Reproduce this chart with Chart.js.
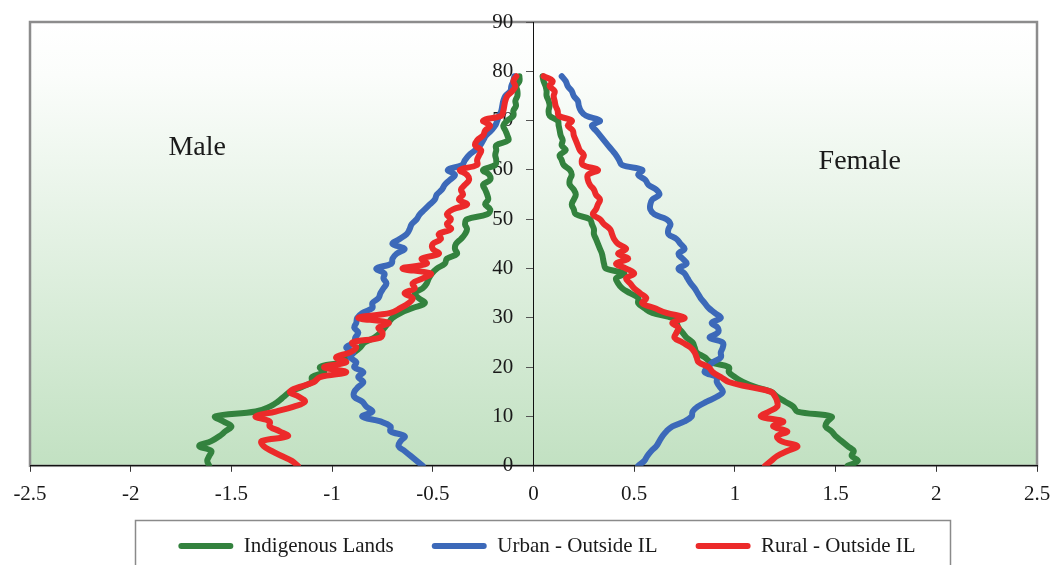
<!DOCTYPE html>
<html>
<head>
<meta charset="utf-8">
<script src="https://cdn.jsdelivr.net/npm/chart.js@4/dist/chart.umd.min.js"></script>
<style>
  html, body { margin: 0; padding: 0; background: #ffffff; }
  #wrap { width: 1050px; height: 565px; }
</style>
</head>
<body>
<div id="wrap"><canvas id="c" width="1050" height="565"></canvas></div>
<script>
const ages = [0,1,2,3,4,5,6,7,8,9,10,11,12,13,14,15,16,17,18,19,20,21,22,23,24,25,26,27,28,29,30,31,32,33,34,35,36,37,38,39,40,41,42,43,44,45,46,47,48,49,50,51,52,53,54,55,56,57,58,59,60,61,62,63,64,65,66,67,68,69,70,71,72,73,74,75,76,77,78,79];

const seriesNames = ['Indigenous Lands', 'Urban - Outside IL', 'Rural - Outside IL'];
const xTicks = [-2.5,-2,-1.5,-1,-0.5,0,0.5,1,1.5,2,2.5];
const yTicks = [0,10,20,30,40,50,60,70,80,90];
const sideLabels = ['Male', 'Female'];

// Male values (plotted as negative percentages)
const indigenousMale = [-1.61,-1.62,-1.61,-1.60,-1.66,-1.60,-1.56,-1.53,-1.50,-1.54,-1.58,-1.38,-1.31,-1.27,-1.24,-1.21,-1.15,-1.10,-1.10,-1.04,-1.06,-0.96,-0.93,-0.89,-0.86,-0.84,-0.79,-0.76,-0.74,-0.72,-0.70,-0.66,-0.60,-0.54,-0.57,-0.59,-0.55,-0.53,-0.52,-0.505,-0.48,-0.44,-0.43,-0.38,-0.39,-0.385,-0.36,-0.34,-0.33,-0.34,-0.33,-0.23,-0.215,-0.24,-0.225,-0.23,-0.24,-0.25,-0.215,-0.22,-0.25,-0.19,-0.185,-0.19,-0.185,-0.185,-0.125,-0.13,-0.14,-0.15,-0.13,-0.10,-0.10,-0.087,-0.09,-0.08,-0.08,-0.085,-0.07,-0.07];
const urbanMale = [-0.55,-0.58,-0.61,-0.64,-0.67,-0.66,-0.64,-0.71,-0.71,-0.76,-0.85,-0.80,-0.83,-0.85,-0.89,-0.89,-0.87,-0.845,-0.87,-0.845,-0.89,-0.88,-0.91,-0.895,-0.93,-0.89,-0.885,-0.87,-0.89,-0.88,-0.875,-0.85,-0.80,-0.80,-0.77,-0.76,-0.745,-0.73,-0.745,-0.74,-0.78,-0.705,-0.70,-0.68,-0.64,-0.70,-0.665,-0.63,-0.615,-0.605,-0.58,-0.565,-0.54,-0.515,-0.49,-0.48,-0.455,-0.44,-0.415,-0.39,-0.425,-0.355,-0.34,-0.32,-0.29,-0.265,-0.25,-0.235,-0.21,-0.19,-0.18,-0.17,-0.16,-0.155,-0.15,-0.14,-0.115,-0.11,-0.10,-0.095];
const ruralMale = [-1.17,-1.20,-1.25,-1.30,-1.34,-1.35,-1.22,-1.26,-1.31,-1.31,-1.38,-1.28,-1.19,-1.135,-1.165,-1.21,-1.16,-1.09,-1.06,-0.93,-1.04,-0.93,-0.98,-0.91,-0.88,-0.90,-0.76,-0.75,-0.77,-0.72,-0.87,-0.71,-0.66,-0.62,-0.60,-0.64,-0.59,-0.60,-0.55,-0.51,-0.65,-0.53,-0.555,-0.47,-0.50,-0.50,-0.46,-0.47,-0.41,-0.43,-0.41,-0.43,-0.40,-0.33,-0.37,-0.35,-0.36,-0.34,-0.32,-0.33,-0.365,-0.28,-0.28,-0.27,-0.26,-0.29,-0.28,-0.25,-0.24,-0.215,-0.25,-0.16,-0.15,-0.145,-0.14,-0.13,-0.105,-0.09,-0.10,-0.085];

// Female values
const indigenousFemale = [1.56,1.61,1.58,1.59,1.56,1.53,1.50,1.48,1.45,1.46,1.48,1.31,1.29,1.25,1.21,1.18,1.10,1.04,1.00,0.97,0.97,0.88,0.85,0.81,0.80,0.79,0.76,0.74,0.72,0.71,0.69,0.59,0.55,0.52,0.52,0.48,0.44,0.42,0.41,0.45,0.36,0.35,0.345,0.34,0.33,0.32,0.31,0.30,0.30,0.29,0.28,0.21,0.20,0.19,0.20,0.21,0.20,0.18,0.18,0.19,0.18,0.15,0.14,0.13,0.16,0.14,0.145,0.135,0.13,0.125,0.12,0.08,0.075,0.08,0.075,0.065,0.065,0.06,0.05,0.045];
const urbanFemale = [0.52,0.55,0.565,0.585,0.61,0.625,0.64,0.66,0.69,0.75,0.785,0.79,0.815,0.86,0.91,0.94,0.925,0.91,0.91,0.85,0.865,0.89,0.93,0.93,0.94,0.94,0.875,0.915,0.915,0.885,0.93,0.90,0.87,0.85,0.83,0.815,0.80,0.78,0.765,0.75,0.72,0.76,0.74,0.72,0.75,0.73,0.71,0.67,0.67,0.68,0.66,0.60,0.58,0.58,0.59,0.625,0.61,0.57,0.555,0.52,0.54,0.44,0.425,0.41,0.39,0.37,0.35,0.33,0.31,0.29,0.33,0.26,0.235,0.225,0.22,0.20,0.19,0.17,0.16,0.14];
const ruralFemale = [1.15,1.18,1.21,1.26,1.31,1.23,1.21,1.26,1.19,1.24,1.13,1.17,1.21,1.21,1.20,1.18,1.07,0.97,0.93,0.89,0.87,0.82,0.81,0.80,0.78,0.74,0.70,0.71,0.72,0.69,0.75,0.66,0.60,0.54,0.56,0.53,0.50,0.48,0.46,0.50,0.46,0.41,0.47,0.42,0.46,0.42,0.40,0.39,0.38,0.35,0.33,0.295,0.31,0.32,0.33,0.31,0.30,0.28,0.27,0.27,0.32,0.245,0.24,0.25,0.23,0.22,0.21,0.20,0.195,0.17,0.19,0.125,0.12,0.11,0.105,0.10,0.105,0.08,0.095,0.05];

const colors = ['#33823e', '#3c69b9', '#ec2a2a'];
const drawOrder = [2, 1, 0];

function pts(values) { return ages.map((a, i) => ({ x: values[i], y: a })); }

function ds(label, values, k) {
  return {
    label: label,
    data: pts(values),
    yAxisID: 'y',
    borderColor: colors[k],
    backgroundColor: colors[k],
    borderWidth: 6,
    borderCapStyle: 'round',
    borderJoinStyle: 'round',
    pointRadius: 0,
    pointHoverRadius: 0,
    tension: 0.4,
    fill: false,
    order: drawOrder[k]
  };
}

const maleSets = [indigenousMale, urbanMale, ruralMale];
const femaleSets = [indigenousFemale, urbanFemale, ruralFemale];
const datasets = [];
maleSets.forEach((v, k) => datasets.push(ds(seriesNames[k], v, k)));
femaleSets.forEach((v, k) => datasets.push(ds(seriesNames[k] + ' F', v, k)));

Chart.defaults.font.family = '"Liberation Serif", "DejaVu Serif", serif';
Chart.defaults.font.size = 21;
Chart.defaults.color = '#1a1a1a';

const LEGEND_PAD = 38;

const framePlugin = {
  id: 'frame',
  afterLayout(chart) {
    const lg = chart.legend;
    if (!lg) return;
    const dx = 547 - (lg.left + lg.right) / 2;
    lg.left += dx; lg.right += dx;
    const dy = 546 - (lg.top + LEGEND_PAD + 10.5);
    lg.top += dy; lg.bottom += dy;
  },
  beforeDraw(chart) {
    const { ctx, chartArea: a } = chart;
    ctx.save();
    const g = ctx.createLinearGradient(0, a.top, 0, a.bottom);
    g.addColorStop(0, '#ffffff');
    g.addColorStop(0.12, '#fbfdfb');
    g.addColorStop(1, '#c2e1c2');
    ctx.fillStyle = g;
    ctx.fillRect(a.left, a.top, a.right - a.left, a.bottom - a.top);
    ctx.strokeStyle = '#8c8c8c';
    ctx.lineWidth = 2.5;
    ctx.strokeRect(a.left, a.top, a.right - a.left, a.bottom - a.top);
    ctx.restore();
  },
  afterDraw(chart) {
    const { ctx } = chart;
    const xs = chart.scales.x, ys = chart.scales.y;
    ctx.save();
    ctx.font = '28px "Liberation Serif", serif';
    ctx.fillStyle = '#1a1a1a';
    ctx.textAlign = 'center';
    ctx.textBaseline = 'middle';
    ctx.fillText(sideLabels[0], xs.getPixelForValue(-1.67), ys.getPixelForValue(64.6));
    ctx.fillText(sideLabels[1], xs.getPixelForValue(1.62), ys.getPixelForValue(61.6));
    // legend frame
    ctx.strokeStyle = '#8a8a8a';
    ctx.lineWidth = 1.5;
    ctx.strokeRect(135.5, 520.5, 815, 60);
    ctx.restore();
  }
};

new Chart(document.getElementById('c'), {
  type: 'line',
  data: { datasets: datasets },
  options: {
    responsive: false,
    animation: false,
    devicePixelRatio: 1,
    layout: { padding: { left: 30, right: 13, top: 22, bottom: -21 } },
    scales: {
      x: {
        type: 'linear',
        min: -2.5, max: 2.5,
        afterBuildTicks(scale) { scale.ticks = xTicks.map(v => ({ value: v })); },
        afterFit(scale) { scale.paddingLeft = 18; scale.paddingRight = 13; },
        grid: { drawOnChartArea: false, drawTicks: true, tickLength: 6, color: '#333333' },
        border: { display: true, color: '#111111', width: 1 },
        ticks: {
          padding: 10,
          color: '#1a1a1a',
          callback: v => String(Math.round(v * 10) / 10)
        }
      },
      y: {
        type: 'linear',
        position: { x: 0 },
        min: 0, max: 90,
        afterBuildTicks(scale) { scale.ticks = yTicks.map(v => ({ value: v })); },
        grid: { drawOnChartArea: false, drawTicks: true, tickLength: 7, color: '#555555' },
        border: { display: true, color: '#111111', width: 1 },
        ticks: { display: false, padding: 0 }
      },
      yl: {
        type: 'linear',
        position: { x: -0.1 },
        min: 0, max: 90,
        afterBuildTicks(scale) { scale.ticks = yTicks.map(v => ({ value: v })); },
        grid: { display: false, drawOnChartArea: false, drawTicks: false },
        border: { display: false },
        ticks: { padding: 0, color: '#1a1a1a', callback: v => String(v) }
      }
    },
    plugins: {
      legend: {
        display: true,
        position: 'bottom',
        labels: {
          boxWidth: 55,
          boxHeight: 6,
          padding: LEGEND_PAD,
          color: '#1a1a1a',
          font: { size: 21 },
          generateLabels(chart) {
            const items = Chart.defaults.plugins.legend.labels.generateLabels(chart);
            return items
              .filter(it => it.datasetIndex < 3)
              .sort((p, q) => p.datasetIndex - q.datasetIndex)
              .map(it => Object.assign(it, { lineWidth: 0, fillStyle: colors[it.datasetIndex], borderRadius: 3 }));
          }
        }
      },
      tooltip: { enabled: false },
      title: { display: false }
    }
  },
  plugins: [framePlugin]
});
</script>
</body>
</html>
